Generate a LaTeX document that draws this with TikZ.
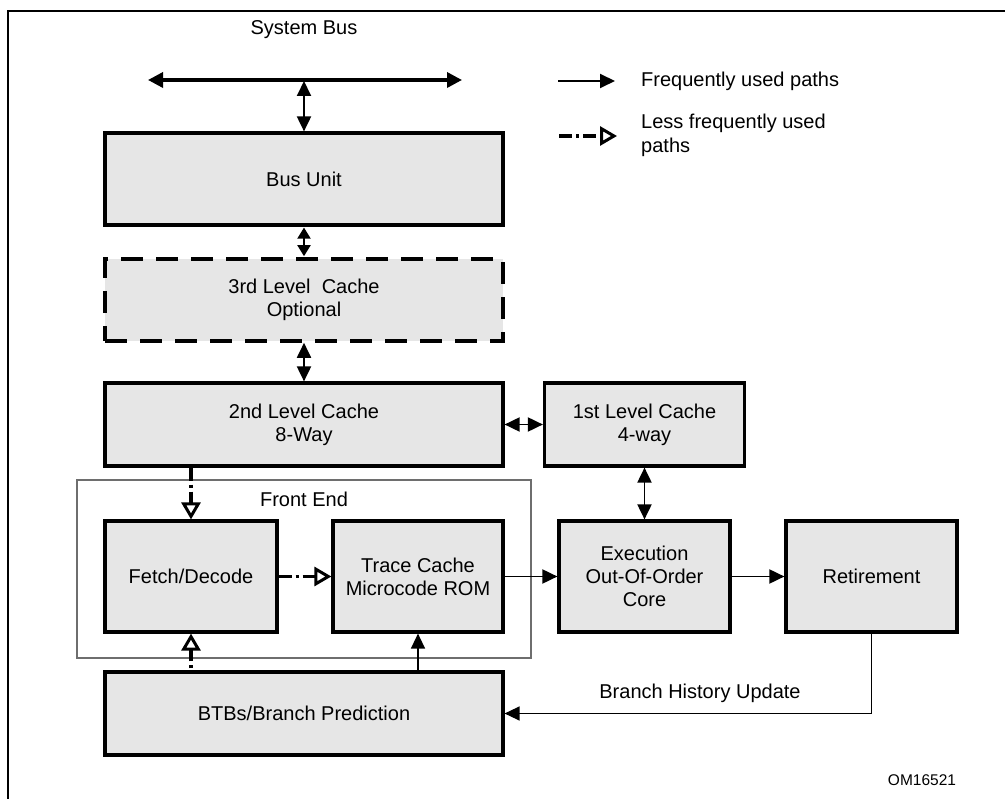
\documentclass[tikz,border=0pt]{standalone}
\usepackage{fontspec}
\setmainfont{Liberation Sans}
\usetikzlibrary{arrows.meta}
\definecolor{boxgray}{RGB}{230,230,230}
\definecolor{fegray}{RGB}{110,110,110}
\begin{document}
\begin{tikzpicture}[x=1pt,y=-1pt,
  txt/.style={font=\fontsize{20}{23}\selectfont, align=center, inner sep=0pt},
  box/.style={txt, draw=black, line width=3.2pt, fill=boxgray},
  dashbox/.style={box, dash pattern=on 22pt off 13pt, line width=3.6pt},
  fe/.style={draw=fegray, line width=1.3pt},
  freq/.style={-{Triangle[length=15pt,width=14pt]}, line width=1.9pt},
  freqboth/.style={{Triangle[length=15pt,width=14pt]}-{Triangle[length=15pt,width=14pt]}, line width=1.9pt},
  freqshort/.style={{Triangle[length=11pt,width=13pt]}-{Triangle[length=11pt,width=13pt]}, line width=1.9pt},
  busarrow/.style={{Triangle[length=15pt,width=15pt]}-{Triangle[length=15pt,width=15pt]}, line width=3.4pt},
  less/.style={-{Triangle[open,length=17pt,width=19pt,line width=3pt]}, line width=3.6pt, dash pattern=on 13pt off 4pt on 3pt off 4pt}
]
\useasboundingbox (0,0) rectangle (1005,799);
\fill[white] (0,0) rectangle (1005,799);
% outer frame (left and top edges visible)
\draw[line width=2pt] (8,830) -- (8,11) -- (1030,11);

% system bus
\node[txt] (sysbus) at (304,30) {System Bus};
\coordinate (busL) at (148,80);
\coordinate (busR) at (462,80);
\coordinate (busM) at (304,81);
\draw[busarrow] (busL) -- (busR);

% boxes
\node[box, minimum width=398pt, minimum height=92pt] (bus) at (304,179) {Bus Unit};
\node[dashbox, minimum width=398pt, minimum height=82pt] (l3) at (304,300) {3rd Level\ \ Cache\\Optional};
\node[box, minimum width=398pt, minimum height=83pt] (l2) at (304,424.5) {2nd Level Cache\\8-Way};
\node[box, minimum width=200pt, minimum height=83pt] (l1) at (644.5,424.5) {1st Level Cache\\4-way};

\draw[fe] (77,480) rectangle (531,658);
\node[txt] (felabel) at (304,499) {Front End};

\node[box, minimum width=172pt, minimum height=111pt] (fetch) at (191,576.5) {Fetch/Decode};
\node[box, minimum width=170pt, minimum height=111pt] (trace) at (418,576.5) {Trace Cache\\Microcode ROM};
\node[box, minimum width=171pt, minimum height=111pt] (exec) at (644.5,576.5) {Execution\\Out-Of-Order\\Core};
\node[box, minimum width=171pt, minimum height=111pt] (ret) at (871.5,576.5) {Retirement};
\node[box, minimum width=398pt, minimum height=83pt] (btb) at (304,713.5) {BTBs/Branch Prediction};

% connectors
\draw[freqboth] (busM) -- (bus.north);
\draw[freqshort, shorten <=1pt, shorten >=1pt] (bus.south) -- (l3.north);
\draw[freqboth] (l3.south) -- (l2.north);
\draw[freqboth] (l2.east) -- (l1.west);
\draw[freqboth] (l1.south) -- (exec.north);
\draw[less] (l2.south -| fetch.north) -- (fetch.north);
\draw[less] (fetch.east) -- (trace.west);
\draw[less, dash phase=15pt] (btb.north -| fetch.south) -- (fetch.south);
\draw[freq, line width=1.4pt] (btb.north -| trace.south) -- (trace.south);
\draw[freq] (trace.east) -- (exec.west);
\draw[freq] (exec.east) -- (ret.west);
\draw[freq, line width=1.4pt] (ret.south) |- (btb.east);
\node[txt] (bhu) at (700,693) {Branch History Update};

% legend
\coordinate (legAa) at (558,81);
\coordinate (legAb) at (615,81);
\coordinate (legBa) at (559,136);
\coordinate (legBb) at (617,136);
\draw[freq] (legAa) -- (legAb);
\draw[less] (legBa) -- (legBb);
\node[txt, anchor=west] (legA) at (641,81) {Frequently used paths};
\node[txt, anchor=west, align=left, font=\fontsize{20}{24}\selectfont] (legB) at (641,135) {Less frequently used\\paths};

\node[inner sep=0pt, font=\fontsize{15.5}{18}\selectfont] (om) at (922,780) {OM16521};
\end{tikzpicture}
\end{document}
